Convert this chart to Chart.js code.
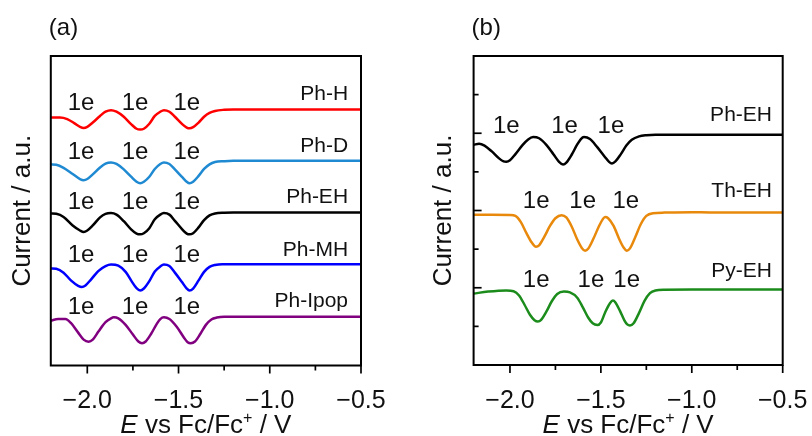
<!DOCTYPE html>
<html>
<head>
<meta charset="utf-8">
<script src="https://cdn.jsdelivr.net/npm/chart.js@4.4.0/dist/chart.umd.min.js"></script>
<style>
  html, body { margin: 0; padding: 0; background: #fff; }
  #wrap { position: relative; width: 812px; height: 436px; }
  #wrap canvas { position: absolute; top: 0; }
</style>
</head>
<body>
<div id="wrap">
  <canvas id="panelA" width="406" height="436" style="left:0"></canvas>
  <canvas id="panelB" width="406" height="436" style="left:406px"></canvas>
</div>
<script>
// ---- potential axis (V vs Fc/Fc+) ----
const xMin = -2.2, xMax = -0.5;
const xTickValues = [-2.0, -1.75, -1.5, -1.25, -1.0, -0.75, -0.5];
const xTickLabels = ['\u22122.0', '', '\u22121.5', '', '\u22121.0', '', '\u22120.5'];
const xMajorTicks = [-2.0, -1.5, -1.0, -0.5];
const xMinorTicks = [-1.75, -1.25, -0.75];
// offset current axis (a.u.)
const yMin = 0, yMax = 8;
const yMajorTicksB = [2, 4, 6];
const yMinorTicksB = [1, 3, 5, 7];

// ---- panel (a): DPV traces ----
const phH_E = [-2.20,-2.15,-2.11,-2.07,-2.04,-2.02,-2.00,-1.97,-1.93,-1.90,-1.87,-1.84,-1.80,-1.76,-1.73,-1.71,-1.69,-1.66,-1.63,-1.60,-1.58,-1.55,-1.52,-1.48,-1.455,-1.44,-1.42,-1.39,-1.36,-1.33,-1.30,-1.25,-1.20,-0.50];
const phH_I = [6.41,6.41,6.37,6.26,6.17,6.14,6.17,6.28,6.45,6.56,6.60,6.56,6.43,6.24,6.12,6.10,6.12,6.25,6.45,6.56,6.60,6.56,6.43,6.24,6.15,6.13,6.16,6.28,6.43,6.53,6.58,6.61,6.62,6.62];

const phD_E = [-2.20,-2.17,-2.13,-2.08,-2.04,-2.02,-2.00,-1.97,-1.93,-1.90,-1.87,-1.84,-1.80,-1.76,-1.73,-1.71,-1.69,-1.66,-1.63,-1.60,-1.58,-1.55,-1.52,-1.48,-1.455,-1.44,-1.42,-1.39,-1.36,-1.33,-1.30,-1.25,-1.20,-0.50];
const phD_I = [5.20,5.19,5.11,4.95,4.82,4.79,4.82,4.94,5.12,5.22,5.25,5.21,5.07,4.88,4.75,4.71,4.75,4.88,5.08,5.21,5.25,5.21,5.07,4.87,4.75,4.71,4.75,4.90,5.08,5.20,5.26,5.28,5.29,5.29];

const phEHa_E = [-2.20,-2.17,-2.13,-2.08,-2.04,-2.02,-2.00,-1.97,-1.93,-1.90,-1.87,-1.84,-1.80,-1.76,-1.73,-1.71,-1.69,-1.66,-1.63,-1.60,-1.58,-1.55,-1.52,-1.48,-1.455,-1.44,-1.42,-1.39,-1.36,-1.33,-1.30,-1.25,-1.20,-0.50];
const phEHa_I = [3.93,3.92,3.84,3.62,3.49,3.45,3.49,3.62,3.83,3.92,3.94,3.90,3.73,3.52,3.41,3.39,3.42,3.55,3.78,3.90,3.94,3.90,3.74,3.52,3.41,3.39,3.42,3.57,3.76,3.88,3.93,3.95,3.955,3.955];

const phMH_E = [-2.20,-2.17,-2.13,-2.09,-2.05,-2.03,-2.01,-1.98,-1.94,-1.90,-1.87,-1.83,-1.79,-1.76,-1.73,-1.71,-1.69,-1.66,-1.63,-1.60,-1.58,-1.55,-1.52,-1.48,-1.455,-1.44,-1.42,-1.39,-1.36,-1.33,-1.30,-1.26,-0.50];
const phMH_I = [2.51,2.50,2.40,2.20,2.06,2.03,2.07,2.22,2.44,2.57,2.61,2.58,2.42,2.20,2.00,1.94,1.99,2.18,2.43,2.56,2.61,2.57,2.40,2.15,1.99,1.94,1.99,2.20,2.42,2.55,2.60,2.62,2.62];

const phIpop_E = [-2.20,-2.16,-2.12,-2.09,-2.05,-2.02,-1.993,-1.97,-1.94,-1.90,-1.87,-1.855,-1.83,-1.79,-1.75,-1.72,-1.70,-1.68,-1.65,-1.62,-1.60,-1.58,-1.55,-1.51,-1.47,-1.45,-1.433,-1.41,-1.38,-1.35,-1.32,-1.29,-1.25,-0.50];
const phIpop_I = [1.16,1.20,1.20,1.10,0.85,0.67,0.615,0.67,0.87,1.12,1.22,1.245,1.22,1.05,0.80,0.62,0.574,0.62,0.82,1.07,1.20,1.245,1.20,1.00,0.72,0.60,0.574,0.62,0.82,1.05,1.19,1.24,1.26,1.26];

// ---- panel (b): DPV traces ----
const phEHb_E = [-2.20,-2.17,-2.14,-2.10,-2.06,-2.035,-2.02,-2.00,-1.97,-1.93,-1.90,-1.873,-1.84,-1.80,-1.76,-1.73,-1.708,-1.69,-1.66,-1.63,-1.61,-1.593,-1.56,-1.52,-1.48,-1.455,-1.439,-1.42,-1.39,-1.36,-1.33,-1.29,-1.25,-1.20,-0.50];
const phEHb_I = [5.70,5.73,5.68,5.53,5.35,5.27,5.26,5.30,5.46,5.70,5.84,5.90,5.87,5.70,5.45,5.26,5.19,5.24,5.45,5.71,5.85,5.90,5.85,5.64,5.40,5.26,5.22,5.27,5.46,5.68,5.83,5.92,5.95,5.96,5.96];

const thEH_E = [-2.20,-2.10,-2.00,-1.97,-1.94,-1.91,-1.88,-1.857,-1.84,-1.81,-1.78,-1.75,-1.716,-1.69,-1.66,-1.63,-1.605,-1.587,-1.57,-1.54,-1.51,-1.49,-1.477,-1.46,-1.43,-1.40,-1.375,-1.357,-1.34,-1.31,-1.28,-1.25,-1.214,-1.15,-1.00,-0.90,-0.50];
const thEH_I = [3.89,3.89,3.885,3.86,3.70,3.42,3.17,3.063,3.10,3.33,3.60,3.80,3.88,3.82,3.58,3.25,3.03,2.96,3.01,3.28,3.60,3.77,3.83,3.80,3.60,3.27,3.04,2.96,3.02,3.32,3.65,3.86,3.93,3.945,3.955,3.95,3.95];

const pyEH_E = [-2.20,-2.12,-2.02,-1.98,-1.95,-1.92,-1.89,-1.865,-1.846,-1.83,-1.80,-1.77,-1.74,-1.703,-1.67,-1.63,-1.60,-1.57,-1.545,-1.519,-1.50,-1.475,-1.45,-1.434,-1.42,-1.395,-1.37,-1.355,-1.34,-1.32,-1.29,-1.26,-1.23,-1.20,-1.15,-1.00,-0.50];
const pyEH_I = [1.85,1.90,1.93,1.91,1.80,1.56,1.30,1.16,1.126,1.16,1.38,1.65,1.84,1.90,1.88,1.74,1.50,1.23,1.08,1.036,1.10,1.38,1.60,1.67,1.62,1.40,1.15,1.05,1.023,1.08,1.35,1.66,1.86,1.93,1.95,1.955,1.955];

// ---- annotations (data units) ----
const namesA = ['Ph-H', 'Ph-D', 'Ph-EH', 'Ph-MH', 'Ph-Ipop'];
const nameYA = [7.01, 5.68, 4.36, 2.985, 1.65];
const nameXA = -0.571;
const electronXA = [[-2.034, -1.738, -1.455], [-2.034, -1.738, -1.455], [-2.034, -1.738, -1.455], [-2.034, -1.738, -1.455], [-2.034, -1.738, -1.455]];
const electronYA = [6.78, 5.52, 4.21, 2.856, 1.504];

const namesB = ['Ph-EH', 'Th-EH', 'Py-EH'];
const nameYB = [6.47, 4.49, 2.44];
const nameXB = -0.559;
const electronXB = [[-2.02, -1.70, -1.445], [-1.856, -1.60, -1.363], [-1.856, -1.555, -1.358]];
const electronYB = [6.19, 4.23, 2.18];
const electronText = '1e';

const FONT = '"Liberation Sans", Arial, Helvetica, sans-serif';
const INK = '#111';

function series(E, I) { return E.map((e, i) => ({ x: e, y: I[i] })); }
function trace(E, I, color) {
  return {
    data: series(E, I), borderColor: color, borderWidth: 2.5,
    pointRadius: 0, fill: false, cubicInterpolationMode: 'monotone'
  };
}

// frame, inward/outward ticks, trace labels, panel tag and composed axis title
const panelDecor = {
  id: 'panelDecor',
  afterDraw(chart, args, o) {
    const { ctx, chartArea: a, scales: { x, y } } = chart;
    ctx.save();
    ctx.strokeStyle = '#000';
    ctx.lineCap = 'butt';
    ctx.lineWidth = 1.7;
    const vline = (px, y0, y1) => { ctx.beginPath(); ctx.moveTo(px, y0); ctx.lineTo(px, y1); ctx.stroke(); };
    const hline = (py, x0, x1) => { ctx.beginPath(); ctx.moveTo(x0, py); ctx.lineTo(x1, py); ctx.stroke(); };
    xMajorTicks.forEach(v => vline(x.getPixelForValue(v), a.bottom, a.bottom + 8));
    xMinorTicks.forEach(v => vline(x.getPixelForValue(v), a.bottom, a.bottom + 5));
    if (o.yTicks) {
      yMajorTicksB.forEach(v => hline(y.getPixelForValue(v), a.left, a.left + 8));
      yMinorTicksB.forEach(v => hline(y.getPixelForValue(v), a.left, a.left + 5));
    }
    ctx.lineWidth = 2;
    ctx.strokeRect(a.left, a.top, a.right - a.left, a.bottom - a.top);

    ctx.fillStyle = INK;
    ctx.textBaseline = 'middle';
    // trace names
    ctx.font = '21px ' + FONT;
    ctx.textAlign = 'right';
    o.names.forEach((n, i) => ctx.fillText(n, x.getPixelForValue(o.nameX), y.getPixelForValue(o.nameY[i])));
    // one-electron labels
    ctx.font = '24px ' + FONT;
    ctx.textAlign = 'center';
    o.elecX.forEach((row, i) => row.forEach(e =>
      ctx.fillText(electronText, x.getPixelForValue(e), y.getPixelForValue(o.elecY[i]))));

    // panel tag
    ctx.textBaseline = 'alphabetic';
    ctx.textAlign = 'left';
    ctx.font = '24px ' + FONT;
    ctx.fillText(o.tag, a.left - 2, 35);

    // x-axis title: E (italic) vs Fc/Fc+ / V
    const parts = [
      { t: 'E', f: 'italic 26px ' + FONT, dy: 0 },
      { t: ' vs Fc/Fc', f: '26px ' + FONT, dy: 0 },
      { t: '+', f: '16px ' + FONT, dy: -10 },
      { t: ' / V', f: '26px ' + FONT, dy: 0 }
    ];
    let total = 0;
    parts.forEach(p => { ctx.font = p.f; p.w = ctx.measureText(p.t).width; total += p.w; });
    let cx = (a.left + a.right) / 2 - total / 2;
    parts.forEach(p => { ctx.font = p.f; ctx.fillText(p.t, cx, 433 + p.dy); cx += p.w; });
    ctx.restore();
  }
};

function makePanel(canvasId, datasets, cfg) {
  return new Chart(document.getElementById(canvasId), {
    type: 'line',
    data: { datasets },
    options: {
      responsive: false,
      devicePixelRatio: 1,
      animation: false,
      layout: { padding: { top: 56, right: cfg.padRight, bottom: 0, left: 0 } },
      plugins: { legend: { display: false }, tooltip: { enabled: false }, panelDecor: cfg.decor },
      scales: {
        x: {
          type: 'linear', min: xMin, max: xMax,
          afterBuildTicks: s => { s.ticks = xTickValues.map(v => ({ value: v })); },
          afterFit: s => { s.height = cfg.xHeight; s.paddingLeft = 0; s.paddingRight = 0; },
          grid: { drawOnChartArea: false, drawTicks: true, tickLength: 8, tickColor: 'rgba(0,0,0,0)' },
          border: { display: false },
          ticks: {
            autoSkip: false, maxRotation: 0, padding: 13, color: INK,
            font: { family: FONT, size: 25 },
            callback: (v, i) => xTickLabels[i]
          }
        },
        y: {
          type: 'linear', min: yMin, max: yMax,
          afterFit: s => { s.width = cfg.yWidth; s.paddingTop = 0; s.paddingBottom = 0; },
          grid: { display: false },
          border: { display: false },
          ticks: { display: false },
          title: {
            display: true, text: 'Current / a.u.', color: INK,
            font: { family: FONT, size: 26 }, padding: { top: cfg.titlePad, bottom: 0 }
          }
        }
      }
    },
    plugins: [panelDecor]
  });
}

makePanel('panelA', [
  trace(phH_E, phH_I, '#ff0000'),
  trace(phD_E, phD_I, '#1f8ad2'),
  trace(phEHa_E, phEHa_I, '#000000'),
  trace(phMH_E, phMH_I, '#0000ff'),
  trace(phIpop_E, phIpop_I, '#800080')
], {
  padRight: 45, xHeight: 70.5, yWidth: 50.8, titlePad: 7,
  decor: { tag: '(a)', yTicks: false, names: namesA, nameX: nameXA, nameY: nameYA, elecX: electronXA, elecY: electronYA }
});

makePanel('panelB', [
  trace(phEHb_E, phEHb_I, '#000000'),
  trace(thEH_E, thEH_I, '#e8890c'),
  trace(pyEH_E, pyEH_I, '#1b8c1b')
], {
  padRight: 29.3, xHeight: 71, yWidth: 67.6, titlePad: 22,
  decor: { tag: '(b)', yTicks: true, names: namesB, nameX: nameXB, nameY: nameYB, elecX: electronXB, elecY: electronYB }
});
</script>
</body>
</html>
